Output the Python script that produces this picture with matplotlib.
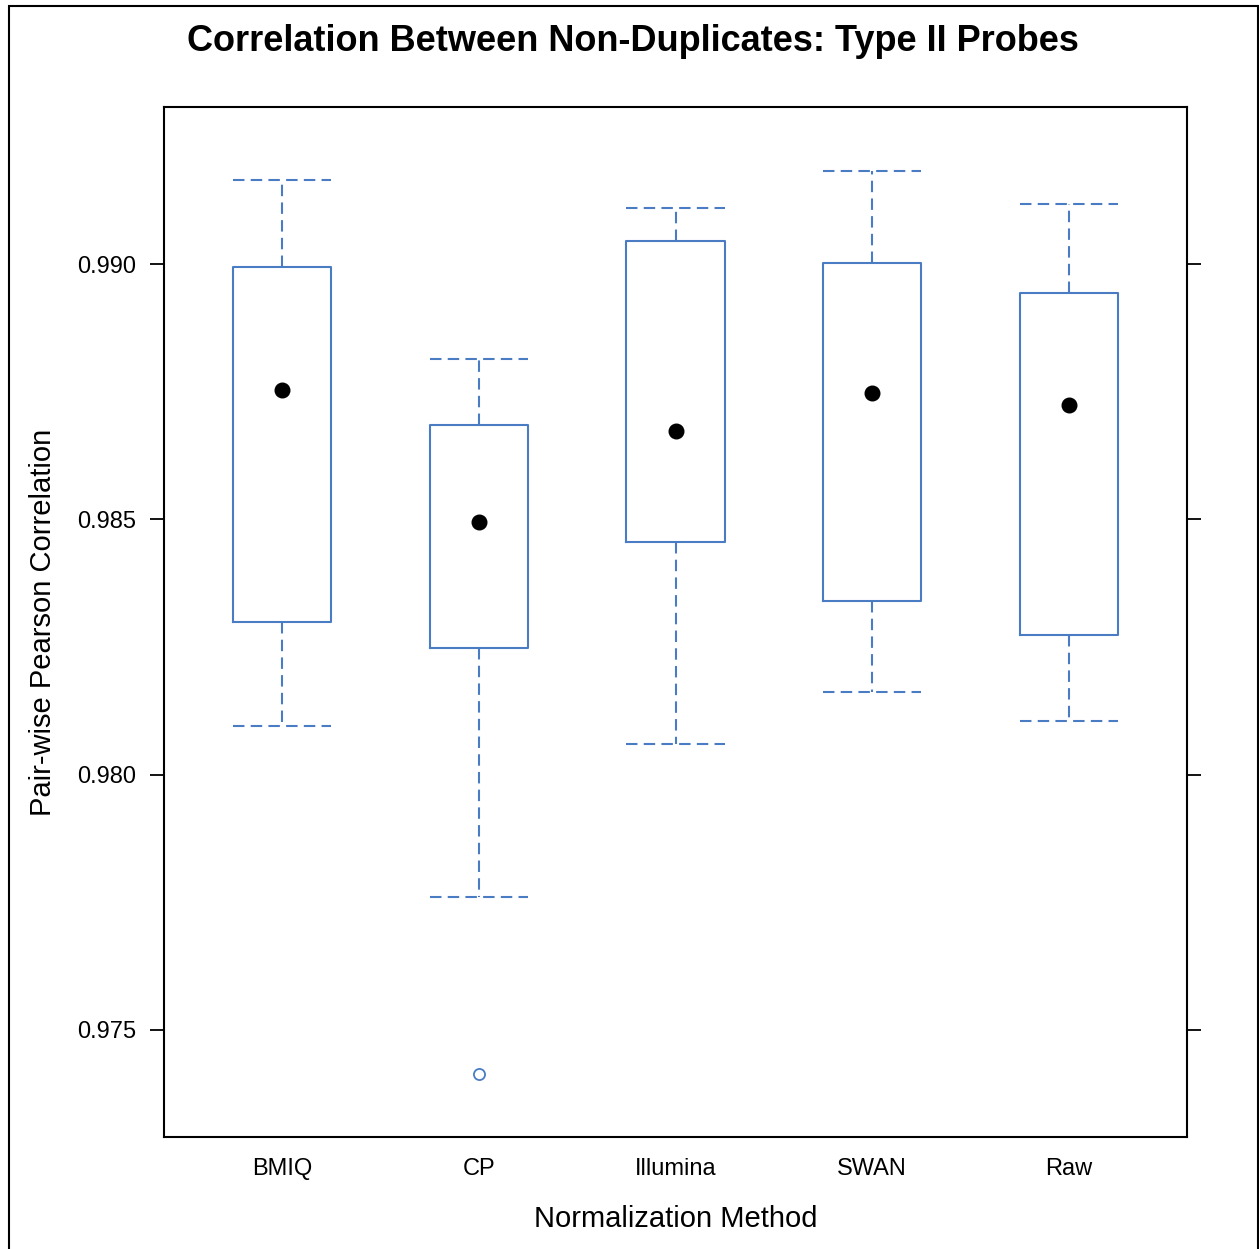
import numpy as np
import matplotlib
matplotlib.use('Agg')
import matplotlib.pyplot as plt
from matplotlib.patches import Rectangle

plt.rcParams['font.family'] = ['Liberation Sans', 'DejaVu Sans']

# data
methods = ['BMIQ', 'CP', 'Illumina', 'SWAN', 'Raw']
whis_lo = [0.98095, 0.97760, 0.98060, 0.98162, 0.98105]
q1 = [0.98299, 0.98248, 0.98456, 0.98340, 0.98273]
med = [0.98753, 0.98495, 0.98673, 0.98747, 0.98724]
q3 = [0.98994, 0.98685, 0.99045, 0.99002, 0.98943]
whis_hi = [0.99165, 0.98814, 0.99110, 0.99182, 0.99118]
outliers = [[], [0.97414], [], [], []]

blue = '#4a7cc4'

fig = plt.figure(figsize=(12.59, 12.49), dpi=100)
ax = fig.add_axes([0.1303, 0.0897, 0.8125, 0.8246])

stats = []
for i in range(len(methods)):
    stats.append(dict(med=med[i], q1=q1[i], q3=q3[i], whislo=whis_lo[i],
                      whishi=whis_hi[i], fliers=outliers[i], label=methods[i]))

pos = np.arange(1, len(methods) + 1)
ax.bxp(stats, positions=pos, widths=0.5, capwidths=0.5,
       boxprops=dict(color=blue, linewidth=1.5),
       whiskerprops=dict(color=blue, linewidth=1.5, linestyle=(0, (5.5, 3))),
       capprops=dict(color=blue, linewidth=1.5, linestyle=(0, (5.5, 3))),
       medianprops=dict(linestyle='none'),
       flierprops=dict(marker='o', markerfacecolor='none', markeredgecolor=blue,
                       markersize=8, markeredgewidth=1.3))

# median dots
ax.plot(pos, med, 'o', color='black', markersize=10.5, zorder=5)

ax.set_xlim(0.4, 5.6)
ax.set_ylim(0.972904, 0.993075)
ax.set_yticks([0.975, 0.980, 0.985, 0.990])
ax.set_yticklabels(['0.975', '0.980', '0.985', '0.990'])
ax.set_xticks(pos)
ax.set_xticklabels(methods)

ax.tick_params(axis='y', direction='out', length=10, width=1.3, labelsize=17,
               pad=10, right=True, left=True)
ax.tick_params(axis='x', length=0, labelsize=17, pad=15)

for s in ax.spines.values():
    s.set_linewidth(1.5)

ax.set_ylabel('Pair-wise Pearson Correlation', fontsize=21)
ax.yaxis.set_label_coords(-0.105, 0.5)
ax.set_xlabel('Normalization Method', fontsize=21)
ax.xaxis.set_label_coords(0.5, -0.066)

fig.text(0.503, 0.959, 'Correlation Between Non-Duplicates: Type II Probes',
         ha='center', va='baseline', fontsize=26, fontweight='bold')

# outer border
fig.patches.append(Rectangle((0.00715, -0.02), 0.992, 1.0152, transform=fig.transFigure,
                             fill=False, edgecolor='black', linewidth=1.5))

fig.savefig('out.png', dpi=100)
